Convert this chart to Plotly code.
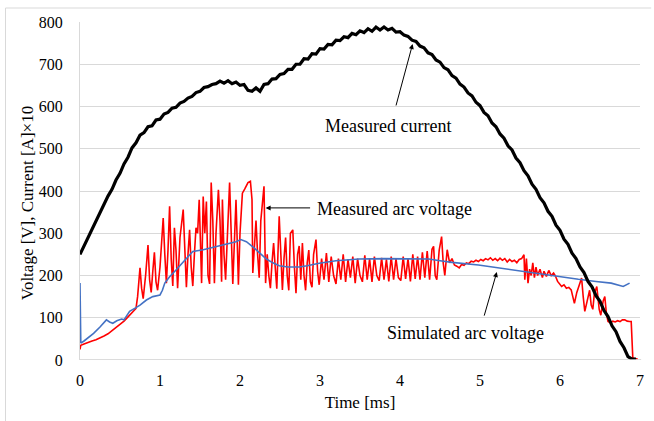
import plotly.graph_objects as go

# ---- Measured current (A x10) ----
cur_t = [0.00,0.05,0.10,0.15,0.20,0.25,0.30,0.35,0.40,0.45,0.50,0.55,0.60,0.65,0.70,0.75,0.80,0.85,0.90,0.95,
         1.00,1.05,1.10,1.15,1.20,1.25,1.30,1.35,1.40,1.45,1.50,1.55,1.60,1.65,1.70,1.75,1.80,1.85,1.90,1.95,
         2.00,2.05,2.10,2.15,2.20,2.25,2.30,2.35,2.40,2.45,2.50,2.55,2.60,2.65,2.70,2.75,2.80,2.85,2.90,2.95,
         3.00,3.05,3.10,3.15,3.20,3.25,3.30,3.35,3.40,3.45,3.50,3.55,3.60,3.65,3.70,3.75,3.80,3.85,3.90,3.95,
         4.00,4.05,4.10,4.15,4.20,4.25,4.30,4.35,4.40,4.45,4.50,4.55,4.60,4.65,4.70,4.75,4.80,4.85,4.90,4.95,
         5.00,5.05,5.10,5.15,5.20,5.25,5.30,5.35,5.40,5.45,5.50,5.55,5.60,5.65,5.70,5.75,5.80,5.85,5.90,5.95,
         6.00,6.05,6.10,6.15,6.20,6.25,6.30,6.35,6.40,6.45,6.50,6.55,6.60,6.65,6.70,6.75,6.80,6.85,6.90,6.95]
cur_v = [250,270,288,308,328,350,366,388,404,426,442,464,480,502,514,532,538,552,554,568,
         570,582,586,596,598,608,612,620,624,633,636,645,647,652,654,660,655,661,654,658,
         650,652,638,636,644,636,652,654,665,666,676,678,688,688,700,700,713,712,725,724,
         737,736,747,746,757,756,765,763,773,770,779,775,784,778,788,781,788,781,785,776,
         777,769,766,757,754,743,739,727,723,710,705,692,687,673,667,653,646,632,625,610,
         602,586,578,561,552,535,525,507,497,478,467,448,436,416,404,384,372,352,340,319,
         307,286,274,253,240,220,207,186,173,152,139,117,103,81,67,44,29,8,2,2]

# ---- Measured arc voltage (V) ----
mv_t = [0.00,0.01,0.05,0.10,0.15,0.20,0.25,0.30,0.35,0.40,0.45,0.50,0.55,0.60,0.65,0.70,
        0.72,0.75,0.77,0.79,0.82,0.85,0.87,0.89,0.91,0.93,0.95,0.97,1.00,1.04,1.06,1.08,1.10,1.12,1.14,1.16,
        1.18,1.20,1.22,1.25,1.29,1.31,1.33,1.35,1.37,1.39,1.41,1.43,1.45,1.47,1.49,1.51,1.52,1.54,1.56,1.58,
        1.60,1.62,1.64,1.66,1.68,1.70,1.73,1.75,1.77,1.78,1.80,1.82,1.85,1.87,1.89,1.91,1.93,1.95,1.97,1.98,
        2.00,2.03,2.06,2.10,2.13,2.15,2.16,2.18,2.20,2.22,2.24,2.26,2.28,2.30,2.32,
        2.34,2.36,2.38,2.40,2.42,2.44,2.46,2.49,2.51,2.53,2.55,2.57,2.59,2.61,2.63,2.66,2.68,2.70,2.72,2.74,
        2.76,2.78,2.80,2.82,2.84,2.86,2.88,2.90,2.92,2.95,2.97,2.99,
        3.02,3.05,3.08,3.11,3.14,3.17,3.20,3.23,3.26,3.29,3.32,3.35,3.38,3.41,3.44,3.47,3.50,3.53,3.56,3.59,
        3.62,3.65,3.68,3.71,3.74,3.77,3.80,3.83,3.86,3.89,3.92,3.95,3.98,4.01,4.04,4.07,4.10,4.13,4.16,4.19,
        4.22,4.25,4.28,4.31,4.34,4.37,4.40,4.42,4.44,4.46,4.49,4.52,4.54,4.56,4.59,4.62,4.65,4.68,4.71,4.74,4.77,
        4.80,4.83,4.86,4.89,4.92,4.95,4.98,5.01,5.04,5.07,5.10,5.13,5.16,5.19,5.22,5.25,5.28,5.31,5.34,5.37,
        5.40,5.43,5.46,5.49,5.52,5.55,5.56,
        5.58,5.60,5.62,5.64,5.66,5.68,5.70,5.72,5.75,5.78,5.80,5.83,5.86,5.89,5.92,5.94,5.97,6.00,6.02,6.05,
        6.08,6.11,6.14,6.16,6.18,6.21,6.24,6.27,6.29,6.31,6.34,6.37,6.39,6.41,6.43,6.46,6.49,6.51,6.54,6.56,
        6.58,6.60,6.63,6.66,6.69,6.72,6.75,6.78,6.81,6.84,6.87,6.89,6.91,6.94,6.97]
mv_v = [25,35,38,42,45,48,52,57,62,69,76,84,92,102,112,122,
        150,218,170,145,200,272,190,160,210,255,185,165,220,336,250,182,260,364,240,175,
        313,260,170,290,356,240,172,250,308,220,175,250,313,300,379,250,182,387,300,375,
        200,180,420,330,182,300,403,330,185,380,250,190,340,420,300,180,280,379,250,178,
        300,395,405,420,423,380,206,260,330,250,195,330,380,411,182,
        250,200,170,230,277,220,169,340,230,166,240,290,200,165,300,308,220,158,250,270,
        190,277,200,165,230,260,185,172,250,285,210,178,
        240,190,253,185,245,200,180,240,190,250,185,238,195,245,182,240,200,185,248,190,
        240,185,245,200,188,242,190,238,186,245,190,240,195,188,245,192,240,186,250,192,
        245,190,255,195,258,190,262,269,200,190,260,292,230,200,261,230,240,225,222,218,226,
        224,230,228,234,232,236,233,238,235,240,237,242,236,240,235,241,236,240,232,238,
        233,236,230,238,240,249,190,
        240,182,215,200,230,195,220,200,215,195,210,198,212,200,206,200,186,180,174,178,
        170,172,166,150,134,160,175,194,150,115,140,165,130,120,158,174,120,106,140,150,
        110,91,88,92,90,93,91,95,95,92,91,91,5,3,3]

# ---- Simulated arc voltage (V) ----
sv_t = [0.00,0.01,0.05,0.10,0.17,0.25,0.33,0.37,0.41,0.46,0.52,0.55,0.62,0.70,0.75,0.83,0.91,1.00,1.03,1.06,
        1.12,1.20,1.30,1.41,1.54,1.65,1.83,1.95,2.01,2.08,2.16,2.25,2.33,2.41,2.49,2.60,2.74,2.84,2.99,3.20,
        3.49,3.80,4.10,4.36,4.50,4.65,4.98,5.20,5.39,5.60,5.81,6.00,6.23,6.45,6.64,6.79,6.87]
sv_v = [182,40,45,52,63,78,95,90,87,93,97,95,115,124,130,142,150,154,165,182,
        197,213,235,257,261,266,273,280,285,280,268,252,239,230,223,220,220,223,229,235,
        239,240,240,239,235,231,225,219,213,207,201,196,191,186,182,174,182]

x_ticks = [0, 1, 2, 3, 4, 5, 6, 7]
y_ticks = [0, 100, 200, 300, 400, 500, 600, 700, 800]

FONT = "Liberation Serif"

fig = go.Figure()
fig.add_trace(go.Scatter(x=mv_t, y=mv_v, mode="lines", line=dict(color="#FF0000", width=1.6),
                         name="Measured arc voltage", hoverinfo="skip"))
fig.add_trace(go.Scatter(x=sv_t, y=sv_v, mode="lines", line=dict(color="#4472C4", width=1.6),
                         name="Simulated arc voltage", hoverinfo="skip"))
fig.add_trace(go.Scatter(x=cur_t, y=cur_v, mode="lines", line=dict(color="#000000", width=3.2),
                         name="Measured current", hoverinfo="skip"))

fig.update_layout(
    width=654, height=421,
    margin=dict(l=80, r=10, t=22, b=61),
    paper_bgcolor="white", plot_bgcolor="white",
    showlegend=False,
    font=dict(family=FONT, size=16, color="#000000"),
    xaxis=dict(range=[0, 7], tickvals=x_ticks, ticktext=[str(v) for v in x_ticks],
               showgrid=False, zeroline=False, showline=False,
               ticks="", ticklabelstandoff=9,
               tickfont=dict(family=FONT, size=16),
               title=dict(text="Time [ms]", font=dict(family=FONT, size=17), standoff=8)),
    yaxis=dict(range=[0, 800], tickvals=y_ticks, ticktext=[str(v) for v in y_ticks],
               showgrid=True, gridcolor="#D9D9D9", gridwidth=1,
               zeroline=False, showline=True, linecolor="#D9D9D9", linewidth=1,
               ticks="", ticklabelstandoff=13,
               tickfont=dict(family=FONT, size=16)),
)

# x axis baseline
fig.add_shape(type="line", xref="paper", yref="y", x0=0, x1=1.002, y0=0, y1=0,
              line=dict(color="#D0D0D0", width=1.5))

# outer chart border (top and left edges visible)
fig.add_shape(type="line", xref="paper", yref="paper", x0=-0.133, x1=1.02, y0=1.0414, y1=1.0414,
              line=dict(color="#D9D9D9", width=1))
fig.add_shape(type="line", xref="paper", yref="paper", x0=-0.133, x1=-0.133, y0=1.0414, y1=-0.19,
              line=dict(color="#D9D9D9", width=1))

# y axis title
fig.add_annotation(text="Voltage [V], Current [A]×10", xref="paper", yref="paper",
                   x=-0.094, y=0.465, textangle=-90, showarrow=False,
                   font=dict(family=FONT, size=17), xanchor="center", yanchor="middle")

ann_font = dict(family=FONT, size=18, color="#000000")
# labels
fig.add_annotation(text="Measured current", x=3.848, y=554, showarrow=False, font=ann_font,
                   xanchor="center", yanchor="middle")
fig.add_annotation(text="Measured arc voltage", x=2.94, y=358, showarrow=False, font=ann_font,
                   xanchor="left", yanchor="middle")
fig.add_annotation(text="Simulated arc voltage", x=4.816, y=64, showarrow=False, font=ann_font,
                   xanchor="center", yanchor="middle")
# arrows
arrow = dict(showarrow=True, arrowhead=2, arrowsize=1, arrowwidth=1, arrowcolor="#000000", text="")
fig.add_annotation(x=4.158, y=748, ax=-17, ay=63, **arrow)
fig.add_annotation(x=2.32, y=360, ax=46, ay=0, **arrow)
fig.add_annotation(x=5.21, y=208, ax=-13, ay=45, **arrow)

fig.write_html("out.html", config={"displayModeBar": False},
               post_script="document.body.style.margin='0';")
